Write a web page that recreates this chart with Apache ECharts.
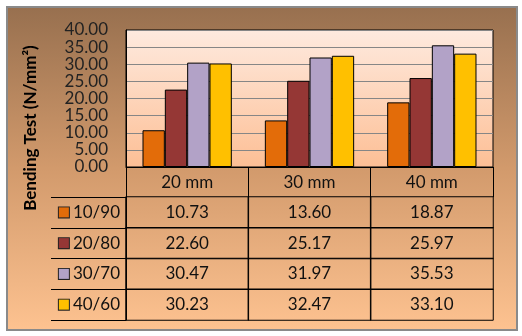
<!DOCTYPE html>
<html>
<head>
<meta charset="utf-8" />
<title>Bending Test</title>
<style>
  body { margin: 0; background: #fff; }
  .frame {
    position: absolute; left: 6px; top: 6px; width: 508px; height: 321px;
    border: 2px solid #8a8a8a;
    background: linear-gradient(to bottom, #98704f 0%, #d29a6c 50%, #fdc290 100%);
  }
  #chart { position: absolute; left: 0; top: 0; width: 522px; height: 336px; }
</style>
</head>
<body>
<div class="frame"></div>
<div id="chart"></div>
<script src="https://cdn.jsdelivr.net/npm/echarts@6/dist/echarts.min.js"></script>
<script>
const categories = ['20 mm', '30 mm', '40 mm'];
const seriesNames = ['10/90', '20/80', '30/70', '40/60'];
const values = {
  '10/90': [10.73, 13.60, 18.87],
  '20/80': [22.60, 25.17, 25.97],
  '30/70': [30.47, 31.97, 35.53],
  '40/60': [30.23, 32.47, 33.10]
};
const colors = ['#e36c09', '#953735', '#b2a2c7', '#ffc000'];
const yTitle = 'Bending Test (N/mm\u00b2)';

const font = 'Lato';
const fs = 17;
const rich = { t: { fontFamily: font, fontSize: fs, color: '#111', padding: [0, 0, 0, 4] } };
seriesNames.forEach((n, i) => {
  rich['k' + i] = { width: 10, height: 10, backgroundColor: colors[i], borderColor: '#222', borderWidth: 1 };
});

const tableData = [];
seriesNames.forEach((n, r) => {
  values[n].forEach((v, c) => tableData.push([c, r, v]));
});

const chart = echarts.init(document.getElementById('chart'));
chart.setOption({
  backgroundColor: 'transparent',
  animation: false,
  textStyle: { fontFamily: font },
  grid: [
    {
      left: 126, right: 29, top: 30, bottom: 169, show: true,
      borderColor: '#000', borderWidth: 1,
      backgroundColor: new echarts.graphic.LinearGradient(0, 0, 0, 1, [
        { offset: 0, color: '#feeadf' },
        { offset: 1, color: '#fdbf95' }
      ])
    },
    { left: 126, right: 29, top: 197, bottom: 16 }
  ],
  xAxis: [
    {
      type: 'category', data: categories, gridIndex: 0,
      axisLine: { lineStyle: { color: '#000', width: 1 } },
      axisTick: { show: true, length: 30, interval: 0, lineStyle: { color: '#000' } },
      axisLabel: { color: '#111', fontSize: fs, margin: 7, fontFamily: font }
    },
    {
      type: 'category', data: categories, gridIndex: 1,
      axisLine: { show: false }, axisTick: { show: false }, axisLabel: { show: false }
    }
  ],
  yAxis: [
    {
      type: 'value', min: 0, max: 40, interval: 5, gridIndex: 0,
      axisLine: { show: true, lineStyle: { color: '#000' } },
      axisTick: { show: false },
      splitLine: { lineStyle: { color: '#868686', width: 1 } },
      axisLabel: { color: '#222', fontSize: fs, margin: 18, fontFamily: font, formatter: v => v.toFixed(2) }
    },
    {
      type: 'category', data: seriesNames, gridIndex: 1, inverse: true,
      axisLine: { show: true, lineStyle: { color: '#000' } },
      axisTick: { show: true, length: 75, interval: 0, lineStyle: { color: '#000' } },
      axisLabel: {
        margin: 6, interval: 0,
        formatter: (v, i) => '{k' + i + '| }{t|' + v + '}',
        rich: rich
      }
    },
    {
      type: 'category', data: seriesNames, gridIndex: 1, inverse: true, offset: 75,
      axisLine: { show: true, lineStyle: { color: '#000' } },
      axisTick: { show: false }, axisLabel: { show: false }
    }
  ],
  graphic: [
    {
      type: 'text', x: 31, y: 128, rotation: Math.PI / 2,
      style: {
        text: yTitle, fontFamily: font, fontSize: 17, fontWeight: 'bold',
        fill: '#000', textAlign: 'center', textVerticalAlign: 'middle'
      }
    }
  ],
  series: seriesNames.map((n, i) => ({
    name: n, type: 'bar', xAxisIndex: 0, yAxisIndex: 0,
    data: values[n],
    barGap: '0%', barCategoryGap: '27%',
    itemStyle: { color: colors[i], borderColor: '#000', borderWidth: 1 },
    emphasis: { disabled: true }
  })).concat([{
    type: 'heatmap', xAxisIndex: 1, yAxisIndex: 1,
    data: tableData,
    itemStyle: { color: 'rgba(0,0,0,0)', borderColor: '#000', borderWidth: 1 },
    label: {
      show: true, color: '#111', fontSize: fs, fontFamily: font,
      formatter: p => p.value[2].toFixed(2)
    },
    emphasis: { disabled: true }
  }])
});
</script>
</body>
</html>
